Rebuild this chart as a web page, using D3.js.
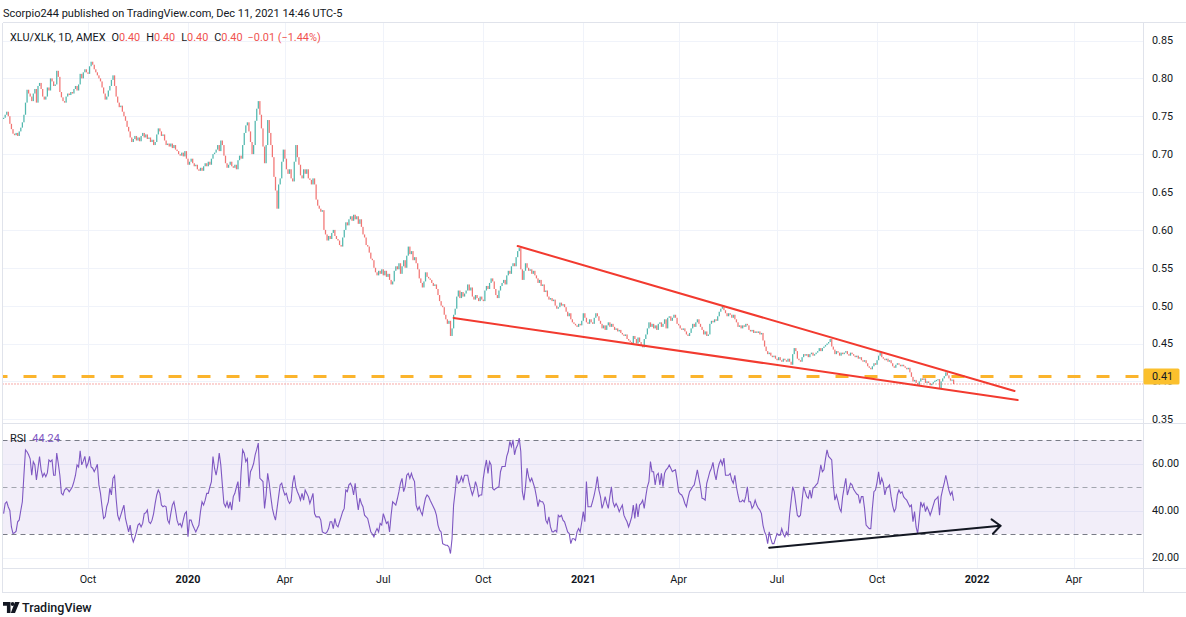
<!DOCTYPE html>
<html><head><meta charset="utf-8">
<script src="https://cdn.jsdelivr.net/npm/d3@7"></script>
<style>
html,body{margin:0;padding:0;background:#fff;}
svg{display:block;}
</style></head><body>
<svg id="chart" width="1186" height="617"></svg>
<script>
// ---------------- DATA ----------------
const title = "Scorpio244 published on TradingView.com, Dec 11, 2021 14:46 UTC-5";
const symbolLabel = "XLU/XLK, 1D, AMEX";
const startDate = "2019-07-16";
const holidays = ["2019-09-02","2019-11-28","2019-12-25","2020-01-01","2020-01-20","2020-02-17","2020-04-10","2020-05-25","2020-07-03","2020-09-07","2020-11-26","2020-12-25","2021-01-01","2021-01-18","2021-02-15","2021-04-02","2021-05-31","2021-07-05","2021-09-06","2021-11-25","2021-12-24","2022-01-17","2022-02-21","2022-04-15"];

// daily closes, one per trading day from startDate
const closes = [
0.748,0.752,0.756,0.750,0.740,0.733,0.727,0.725,0.728,0.724,
0.730,0.735,0.742,0.752,0.768,0.785,0.780,0.776,0.770,0.780,
0.786,0.768,0.790,0.794,0.786,0.776,0.772,0.776,0.788,0.784,
0.800,0.796,0.790,0.792,0.810,0.802,0.782,0.775,0.770,0.768,
0.776,0.780,0.778,0.782,0.780,0.786,0.790,0.784,0.792,0.806,
0.800,0.808,0.812,0.808,0.806,0.816,0.822,0.818,0.812,0.808,
0.804,0.800,0.796,0.788,0.780,0.772,0.776,0.784,0.790,0.798,
0.804,0.790,0.776,0.768,0.762,0.764,0.756,0.750,0.744,0.736,
0.730,0.722,0.716,0.720,0.724,0.718,0.722,0.717,0.724,0.728,
0.722,0.726,0.720,0.722,0.716,0.719,0.712,0.716,0.726,0.734,
0.730,0.724,0.726,0.718,0.712,0.714,0.710,0.714,0.708,0.712,
0.706,0.704,0.700,0.698,0.702,0.697,0.704,0.694,0.686,0.690,
0.694,0.688,0.684,0.686,0.680,0.678,0.682,0.678,0.684,0.688,
0.684,0.690,0.686,0.694,0.700,0.702,0.706,0.712,0.704,0.718,
0.712,0.698,0.688,0.682,0.686,0.690,0.684,0.682,0.686,0.680,
0.692,0.698,0.694,0.712,0.728,0.738,0.742,0.730,0.716,0.700,
0.712,0.744,0.760,0.770,0.752,0.734,0.710,0.688,0.712,0.745,
0.728,0.712,0.696,0.670,0.652,0.628,0.660,0.668,0.690,0.706,
0.694,0.680,0.674,0.680,0.668,0.664,0.690,0.712,0.696,0.686,
0.672,0.668,0.680,0.674,0.680,0.668,0.666,0.660,0.668,0.660,
0.640,0.632,0.628,0.624,0.626,0.600,0.594,0.586,0.592,0.588,
0.596,0.600,0.592,0.588,0.586,0.580,0.578,0.590,0.600,0.610,
0.606,0.614,0.618,0.612,0.620,0.614,0.618,0.608,0.614,0.604,
0.594,0.590,0.580,0.578,0.570,0.562,0.560,0.550,0.544,0.540,
0.546,0.542,0.548,0.540,0.546,0.538,0.542,0.534,0.528,0.532,
0.546,0.552,0.548,0.556,0.542,0.552,0.560,0.550,0.566,0.578,
0.568,0.572,0.560,0.564,0.556,0.548,0.536,0.530,0.524,0.532,
0.544,0.538,0.536,0.534,0.530,0.526,0.528,0.522,0.514,0.506,
0.500,0.498,0.488,0.482,0.476,0.480,0.460,0.470,0.488,0.496,
0.512,0.520,0.510,0.518,0.512,0.516,0.520,0.528,0.520,0.524,
0.512,0.508,0.514,0.510,0.506,0.512,0.508,0.506,0.520,0.526,
0.522,0.530,0.536,0.532,0.522,0.514,0.510,0.520,0.526,0.530,
0.534,0.528,0.540,0.546,0.542,0.552,0.556,0.552,0.564,0.572,
0.576,0.548,0.534,0.546,0.556,0.550,0.546,0.548,0.542,0.546,
0.540,0.536,0.530,0.534,0.526,0.528,0.518,0.520,0.512,0.508,
0.510,0.506,0.508,0.500,0.496,0.498,0.504,0.500,0.502,0.498,
0.492,0.486,0.490,0.482,0.478,0.476,0.474,0.472,0.476,0.474,
0.480,0.490,0.484,0.478,0.476,0.482,0.478,0.476,0.484,0.490,
0.486,0.480,0.476,0.470,0.474,0.468,0.474,0.478,0.472,0.476,
0.472,0.468,0.470,0.466,0.468,0.464,0.462,0.460,0.462,0.456,
0.454,0.452,0.450,0.460,0.456,0.450,0.458,0.452,0.448,0.445,
0.456,0.462,0.470,0.478,0.472,0.476,0.470,0.474,0.468,0.476,
0.478,0.472,0.476,0.482,0.470,0.484,0.486,0.480,0.484,0.488,
0.484,0.476,0.474,0.470,0.468,0.470,0.466,0.462,0.460,0.464,
0.470,0.476,0.472,0.478,0.482,0.476,0.472,0.468,0.462,0.466,
0.460,0.462,0.476,0.480,0.478,0.482,0.480,0.486,0.492,0.496,
0.500,0.494,0.490,0.486,0.490,0.488,0.484,0.488,0.482,0.478,
0.472,0.474,0.470,0.474,0.472,0.476,0.474,0.468,0.466,0.468,
0.464,0.466,0.464,0.466,0.462,0.464,0.454,0.446,0.440,0.436,
0.438,0.434,0.432,0.434,0.430,0.428,0.432,0.428,0.426,0.430,
0.428,0.426,0.430,0.426,0.422,0.436,0.444,0.440,0.430,0.428,
0.426,0.432,0.436,0.434,0.436,0.432,0.436,0.438,0.434,0.436,
0.438,0.440,0.444,0.440,0.444,0.446,0.448,0.450,0.452,0.456,
0.446,0.442,0.436,0.440,0.438,0.434,0.438,0.436,0.438,0.440,
0.436,0.434,0.438,0.436,0.434,0.432,0.434,0.430,0.432,0.428,
0.426,0.428,0.424,0.420,0.418,0.416,0.420,0.424,0.422,0.428,
0.434,0.438,0.432,0.430,0.428,0.430,0.426,0.428,0.424,0.420,
0.418,0.422,0.424,0.422,0.420,0.422,0.420,0.418,0.416,0.418,
0.412,0.406,0.400,0.402,0.398,0.395,0.400,0.404,0.402,0.404,
0.398,0.400,0.398,0.395,0.397,0.399,0.401,0.402,0.403,0.391,
0.400,0.404,0.407,0.412,0.408,0.404,0.401,0.4024,0.3966
];

// RSI(14), one value per trading day
const rsiValues = [
38.7,43,43.7,41.5,40,33,30.2,30.5,31.2,35.2,
36,40,43.7,55,65.8,65,63.7,62,55,60.8,
59.4,53,58,63,57.3,54.4,55.8,54.4,56,61.5,
60.8,61.5,55,55,64.4,60,55,47.3,46.6,48.7,
49.4,49,48,49,50.1,52.3,55,59.4,58.5,65.4,
59.4,61,63,58.5,60,63,58.5,58,56.5,58,
59.7,50.9,47.3,41.6,36.6,37.3,41.6,43.7,49.4,46.6,
53.7,54.8,45.2,38,35.9,38,40.2,42.3,36.6,33.8,
30.9,33.8,28.8,26.6,28.5,30.9,33.8,34.5,33,34.5,
38.7,39,40.2,35.2,34.5,35.9,38.7,43,46.6,48.7,
47.3,42.3,41.6,42,41.6,35.9,34.5,38.7,42.3,43.7,
40.2,35.9,33.8,34.5,33,36,38.7,39.5,28.8,35.9,
35.9,33.8,32.3,30.9,32.3,33.8,39.5,43.7,42.3,44.4,
47.3,47.3,50,52.3,63,58,55,58.7,64.4,59.4,
50.9,43,41.6,43.7,40.9,43.7,40.2,45.9,47.3,50,
52.3,43.7,56.5,65.8,64.4,60.8,62,50.1,56.5,58,
60,63.7,66,68.7,53.7,53,52.3,40.9,46.6,55.8,
51.6,45.9,40.9,38,35.9,40.9,45.9,50.9,51.6,48.7,
46.6,47.3,44.4,43,44,51.6,55,50.1,48,46.5,
44.4,47.3,44.4,48.7,47.3,45.9,43,45,47.3,38.7,
37.3,37.3,37.3,35.9,30.9,30.5,30.2,30.9,32.3,35.2,
35.2,32.3,36.6,33.8,33,35.2,37.3,39.5,40.9,48.7,
48,50.9,51.6,50.1,46.6,51.6,45.2,40.2,45.2,43,
41.6,38,37.3,36.6,33.8,30.9,30,28.8,30.9,32.3,
30.9,34.5,33.8,38.7,36.6,34.5,35.2,30.9,38,43.7,
43,42.3,45,48,51.6,53.7,48,50.1,55,55.8,
53.7,55.8,53.7,52.3,42.3,40.2,41.6,39.5,38,42,
45.2,46.6,45.9,44.4,43,41.6,40.2,38,33.8,31.6,
30.9,25.9,25.5,25.2,25.2,24.5,21.7,28,42.3,48,
55,51.6,52.3,54.4,52.3,55,55,55,51.6,49,
46.6,48.7,52.3,50.1,45.9,46.6,46.6,53.7,58,61.5,
55.8,60.8,59.4,49.4,48.7,49.4,49.8,50.1,56.5,58.7,
58.7,58.7,63,65.1,69.4,67.2,70.1,63.7,66.5,68,
70.8,65.1,48,44.4,50.1,58,54.4,52.3,53.7,51.6,
49.4,45.9,41.6,44.4,43.7,43.7,42.3,35.9,34.5,37.3,
33,31,30.9,31.6,30.9,38,37.3,38,35.9,35.2,
33,30.9,30.2,25.9,28,28,27.3,30.9,32.3,30.9,
35,39.5,35.2,52.3,41.6,41.6,41.6,44,46.6,50,
54.4,48.7,45.9,40.9,43,45.9,43,40.9,45.9,50.1,
43.7,41.6,43,41.6,39.5,41,42.3,38,36.5,35.2,
33,35,37.3,42.3,36.6,43,37.3,42.3,43,44.4,
40.9,46,50.1,52.3,60.8,56.5,56.5,50.9,55,55.8,
50.9,55.8,50.1,55.8,57.3,58,59.4,58,56.5,57,
57.3,53,48,47,46.6,45.2,43,41.6,45.2,48,
49,50.1,50.9,54,57.3,53.7,50.1,45.2,45,44.4,
51.6,54,56.5,58,60.5,55.8,53,57.3,60,61.5,
59.4,62.3,55,55,55,55.8,53,51.6,55,50.1,
46.6,43.7,43.7,44.4,43.7,46,50.1,43.7,43.7,40.9,
42,44.4,42.3,41,40.2,38.7,33.8,31,29.5,25.9,
30.9,28,25.9,25.9,28,30.2,29.5,29.5,32.3,30,
28.8,30.9,29.5,38,44,50.1,48,43,38,37.3,
38,44,50.1,48,46,45.2,48.7,45.2,49.4,50,
50.9,51.6,55,59.4,56.5,57.3,62,65.8,63,62.3,
61.5,50.9,44.4,46.6,44,40.9,39.5,45.9,50,53.7,
46.6,49,51.6,50.9,49,48,47,46.6,43,45.9,
45.9,40.9,33.8,33,32.3,32.3,40.9,48,48.7,52,
56.5,51,53.7,51.6,46.6,49.4,50,50.9,45.9,42,
39.5,40.9,46.6,48.7,47.3,48,45.9,45,44.4,43,
41.6,42.3,35.2,39.5,33,30.2,36.6,43.7,41.6,43,
39.5,41.6,40,38,40,42.3,44.4,45,45.9,38,
45.9,49,51.6,55,52,48.7,46.6,48,44.24
];

const priceTicks = [0.35,0.40,0.45,0.50,0.55,0.60,0.65,0.70,0.75,0.80,0.85];
const rsiTicks = [20,40,60];
const rsiBands = [70,50,30];
const timeTickMonths = ["2019-10","2020-01","2020-04","2020-07","2020-10","2021-01","2021-04","2021-07","2021-10","2022-01","2022-04"];
const timeTickLabels = ["Oct","2020","Apr","Jul","Oct","2021","Apr","Jul","Oct","2022","Apr"];

const horizontalLevel = 0.4065;
const upperTrend = [{date:"2020-11-02", value:0.5787},{date:"2022-02-07", value:0.3874}];
const lowerTrend = [{date:"2020-09-03", value:0.4837},{date:"2022-02-09", value:0.3755}];
const rsiArrow   = [{date:"2021-06-24", value:24.2},{date:"2022-01-25", value:33.5}];

// ---------------- LAYOUT ----------------
const W = 1186, H = 617;
const plotRight = 1143.5;
const firstBarX = 3.6, barStep = 1.5625;
const pricePane = {top:22.5, bottom:423.5};
const rsiPane = {top:423.5, bottom:568.5};
const axisBottom = 592.5;
const FONT = "Roboto, 'Noto Sans', sans-serif";
const TXT = "#131722";
const UP = "#26a69a", DOWN = "#ef5350";

// trading-day calendar (includes future days for drawings)
const holidaySet = new Set(holidays);
const tradingDays = [];
{
  let d = new Date(startDate + "T00:00:00Z");
  while (tradingDays.length < 760) {
    const wd = d.getUTCDay();
    const s = d.toISOString().slice(0,10);
    if (wd !== 0 && wd !== 6 && !holidaySet.has(s)) tradingDays.push(s);
    d = new Date(d.getTime() + 86400000);
  }
}
const dayIndex = new Map(tradingDays.map((s,i)=>[s,i]));
const idxOf = s => dayIndex.get(s);
const monthStartIdx = m => tradingDays.findIndex(s => s.startsWith(m));

const data = closes.map((c,i)=>{
  const o = i>0 ? closes[i-1] : c;
  return {i, date:tradingDays[i], open:o, close:c, high:Math.max(o,c), low:Math.min(o,c), rsi:rsiValues[i]};
});

const x = d3.scaleLinear()
  .domain([(0 - firstBarX)/barStep, (plotRight - firstBarX)/barStep])
  .range([0, plotRight]);
const y = d3.scaleLinear().domain([0.35, 0.85]).range([419.3, 40.5]);
const yR = d3.scaleLinear().domain([20, 70]).range([557.5, 440]);

const svg = d3.select("#chart").attr("font-family", FONT);
svg.append("rect").attr("width",W).attr("height",H).attr("fill","#fff");

// clip paths
const defs = svg.append("defs");
defs.append("clipPath").attr("id","clipP").append("rect")
  .attr("x",2.5).attr("y",pricePane.top).attr("width",plotRight-2.5).attr("height",pricePane.bottom-pricePane.top);
defs.append("clipPath").attr("id","clipR").append("rect")
  .attr("x",2.5).attr("y",rsiPane.top).attr("width",plotRight-2.5).attr("height",rsiPane.bottom-rsiPane.top);
defs.append("clipPath").attr("id","clipLbl").append("rect")
  .attr("x",plotRight).attr("y",y(horizontalLevel)+8).attr("width",W-plotRight).attr("height",12);

const grid = svg.append("g").attr("stroke","#f0f3fa").attr("stroke-width",1).attr("shape-rendering","crispEdges");
// vertical grid
timeTickMonths.forEach(m=>{
  const xi = Math.round(x(monthStartIdx(m))) + 0.5;
  grid.append("line").attr("x1",xi).attr("x2",xi).attr("y1",pricePane.top).attr("y2",rsiPane.bottom);
});
// horizontal price grid
priceTicks.forEach(v=>{
  const yi = Math.round(y(v)) + 0.5;
  grid.append("line").attr("x1",2.5).attr("x2",plotRight).attr("y1",yi).attr("y2",yi);
});
rsiTicks.forEach(v=>{
  const yi = Math.round(yR(v)) + 0.5;
  grid.append("line").attr("x1",2.5).attr("x2",plotRight).attr("y1",yi).attr("y2",yi);
});

// ---------- RSI pane ----------
const rsiG = svg.append("g").attr("clip-path","url(#clipR)");
rsiG.append("rect").attr("x",2.5).attr("width",plotRight-2.5)
  .attr("y",yR(70)).attr("height",yR(30)-yR(70)).attr("fill","rgba(126,87,194,0.1)");
rsiBands.forEach(v=>{
  rsiG.append("line").attr("x1",2.5).attr("x2",plotRight).attr("y1",Math.round(yR(v))+0.5).attr("y2",Math.round(yR(v))+0.5)
    .attr("stroke", v===50 ? "#a3a6af" : "#787b86").attr("stroke-dasharray","5,4").attr("stroke-width",1);
});
rsiG.append("path").datum(data)
  .attr("fill","none").attr("stroke","#7e57c2").attr("stroke-width",1.1)
  .attr("d", d3.line().x(d=>x(d.i)).y(d=>yR(d.rsi)));

// RSI arrow drawing
{
  const p0 = [x(idxOf(rsiArrow[0].date)), yR(rsiArrow[0].value)];
  const p1 = [x(idxOf(rsiArrow[1].date)), yR(rsiArrow[1].value)];
  const ang = Math.atan2(p1[1]-p0[1], p1[0]-p0[0]);
  const L = 11, spread = 0.72;
  const a1 = [p1[0]-L*Math.cos(ang-spread), p1[1]-L*Math.sin(ang-spread)];
  const a2 = [p1[0]-L*Math.cos(ang+spread), p1[1]-L*Math.sin(ang+spread)];
  const ag = svg.append("g").attr("stroke","#131722").attr("stroke-width",2).attr("fill","none").attr("stroke-linecap","round");
  ag.append("line").attr("x1",p0[0]).attr("y1",p0[1]).attr("x2",p1[0]).attr("y2",p1[1]);
  ag.append("polyline").attr("points",[a1,p1,a2].map(p=>p.join(",")).join(" ")).attr("stroke-linejoin","round");
}

// ---------- Price pane ----------
const pG = svg.append("g").attr("clip-path","url(#clipP)");
pG.append("g").selectAll("rect").data(data).join("rect")
  .attr("x", d=>x(d.i)-0.6).attr("width",1.25)
  .attr("y", d=>y(d.high))
  .attr("height", d=>Math.max(1.2, y(d.low)-y(d.high)))
  .attr("fill", d=>d.close>=d.open ? UP : DOWN)
  .attr("opacity",0.8);

// last price dotted line
const last = data[data.length-1];
pG.append("line").attr("x1",2.5).attr("x2",plotRight)
  .attr("y1",y(last.close)).attr("y2",y(last.close))
  .attr("stroke",DOWN).attr("stroke-width",1).attr("stroke-dasharray","1,2");

// horizontal level line
pG.append("line").attr("x1",2.5).attr("x2",plotRight)
  .attr("y1",y(horizontalLevel)).attr("y2",y(horizontalLevel))
  .attr("stroke","#fbb42c").attr("stroke-width",3).attr("stroke-dasharray","13,16").attr("stroke-dashoffset",8);

// trend lines
[upperTrend, lowerTrend].forEach(t=>{
  pG.append("line")
    .attr("x1",x(idxOf(t[0].date))).attr("y1",y(t[0].value))
    .attr("x2",x(idxOf(t[1].date))).attr("y2",y(t[1].value))
    .attr("stroke","#f23a2f").attr("stroke-width",2).attr("stroke-linecap","round");
});

// ---------- borders ----------
const bd = svg.append("g").attr("stroke","#e0e3eb").attr("stroke-width",1).attr("shape-rendering","crispEdges");
bd.append("line").attr("x1",2.5).attr("x2",W).attr("y1",pricePane.top).attr("y2",pricePane.top);
bd.append("line").attr("x1",2.5).attr("x2",W).attr("y1",pricePane.bottom).attr("y2",pricePane.bottom);
bd.append("line").attr("x1",2.5).attr("x2",W).attr("y1",rsiPane.bottom).attr("y2",rsiPane.bottom);
bd.append("line").attr("x1",2.5).attr("x2",W).attr("y1",axisBottom).attr("y2",axisBottom);
bd.append("line").attr("x1",2.5).attr("x2",2.5).attr("y1",pricePane.top).attr("y2",axisBottom);
bd.append("line").attr("x1",plotRight).attr("x2",plotRight).attr("y1",pricePane.top).attr("y2",axisBottom);

// ---------- axes labels ----------
const axFont = 10.8;
priceTicks.forEach(v=>{
  const t = svg.append("text").attr("x",1152).attr("y",y(v)).attr("dy","0.36em")
    .attr("font-size",axFont).attr("fill",TXT).text(v.toFixed(2));
  // the tick hidden behind the level label only peeks out below it
  if (Math.abs(y(v) - y(horizontalLevel)) < 10) t.attr("clip-path","url(#clipLbl)");
});
rsiTicks.forEach(v=>{
  svg.append("text").attr("x",1152).attr("y",yR(v)).attr("dy","0.36em")
    .attr("font-size",axFont).attr("fill",TXT).text(v.toFixed(2));
});
timeTickMonths.forEach((m,k)=>{
  const isYear = /^\d{4}$/.test(timeTickLabels[k]);
  svg.append("text").attr("x",x(monthStartIdx(m))).attr("y",583)
    .attr("text-anchor","middle").attr("font-size",axFont)
    .attr("font-weight", isYear ? "bold" : "normal").attr("fill",TXT)
    .text(timeTickLabels[k]);
});

// level label box
{
  const yl = y(horizontalLevel);
  svg.append("rect").attr("x",plotRight).attr("y",yl-8).attr("width",36).attr("height",16)
    .attr("rx",1.5).attr("fill","#fbc02d");
  svg.append("text").attr("x",1152).attr("y",yl).attr("dy","0.36em").attr("font-size",axFont)
    .attr("fill",TXT).text(horizontalLevel.toFixed(2));
}

// ---------- header & legends ----------
svg.append("text").attr("x",3).attr("y",17).attr("font-size",11).attr("fill",TXT).text(title);

{
  const prev = data[data.length-2];
  const chg = last.close - prev.close;
  const pct = chg/prev.close*100;
  const fmt = v => (v<0 ? "\u2212" : "") + Math.abs(v).toFixed(2);
  const t = svg.append("text").attr("x",10).attr("y",41).attr("font-size",10.9).attr("fill",TXT);
  t.append("tspan").text(symbolLabel);
  const col = chg>=0 ? UP : DOWN;
  [["O",last.open],["H",last.high],["L",last.low],["C",last.close]].forEach(([k,v],j)=>{
    t.append("tspan").attr("dx", j===0 ? 6 : 6).attr("fill",TXT).text(k);
    t.append("tspan").attr("fill",col).text(v.toFixed(2));
  });
  t.append("tspan").attr("dx",5).attr("fill",col).text(fmt(chg) + " (" + fmt(pct) + "%)");
}
{
  const t = svg.append("text").attr("x",10).attr("y",442).attr("font-size",11).attr("fill",TXT);
  t.append("tspan").text("RSI");
  t.append("tspan").attr("dx",6).attr("fill","#7e57c2").text(last.rsi.toFixed(2));
}

// ---------- footer logo ----------
{
  const g = svg.append("g").attr("fill","#131722");
  g.append("path").attr("d","M3,602 h7.5 v11 h-3.6 v-7.2 h-3.9 z");
  g.append("circle").attr("cx",12.6).attr("cy",604).attr("r",1.9);
  g.append("path").attr("d","M15,602 h4.6 l-4.6,11 h-4.2 z");
  svg.append("text").attr("x",22).attr("y",612).attr("font-size",12.5).attr("font-weight",500)
    .attr("fill",TXT).text("TradingView");
}
</script>
</body></html>
